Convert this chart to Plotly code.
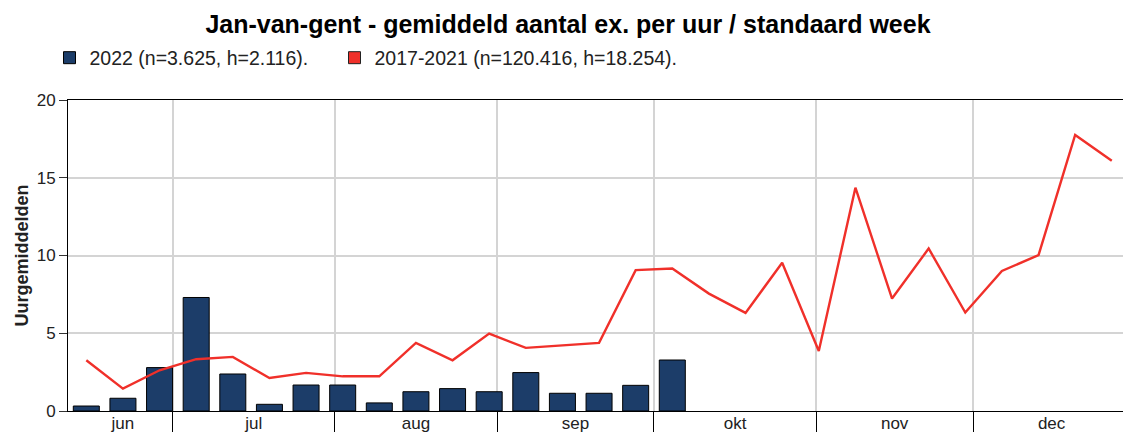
import plotly.graph_objects as go

# Data (standard weeks, day-of-year based)
weeks_2022 = list(range(24, 41))
values_2022 = [0.32, 0.82, 2.79, 7.30, 2.38, 0.43, 1.67, 1.67, 0.52,
               1.24, 1.44, 1.24, 2.47, 1.14, 1.14, 1.65, 3.28]

weeks_ref = list(range(24, 53))
values_ref = [3.26, 1.44, 2.62, 3.33, 3.48, 2.12, 2.45, 2.23, 2.23,
              4.38, 3.26, 4.98, 4.06, 4.20, 4.38, 9.06, 9.16, 7.55,
              6.31, 9.53, 3.86, 14.36, 7.23, 10.45, 6.33, 9.01, 10.02,
              17.75, 16.09]

month_labels = ["jun", "jul", "aug", "sep", "okt", "nov", "dec"]
month_label_pos = [171.5, 196.5, 227.5, 258, 288.5, 319, 349]
month_starts = [181, 212, 243, 273, 304, 334]

title_text = "Jan-van-gent - gemiddeld aantal ex. per uur / standaard week"
name_2022 = "2022 (n=3.625, h=2.116)."
name_ref = "2017-2021 (n=120.416, h=18.254)."

def week_center(w):
    return 7 * (w - 1) + 3.5

BLUE = "#1c3d69"
RED = "#f0302a"
FONT = "Liberation Sans, Arial, sans-serif"

fig = go.Figure()
fig.add_trace(go.Bar(
    x=[week_center(w) for w in weeks_2022], y=values_2022,
    name=name_2022, marker=dict(color=BLUE, line=dict(color="#000000", width=1)),
    showlegend=True, legend="legend",
))
fig.add_trace(go.Scatter(
    x=[week_center(w) for w in weeks_ref], y=values_ref,
    mode="lines", line=dict(color=RED, width=2.4), showlegend=False, name=name_ref,
))
# legend proxy (square symbol) for reference series
fig.add_trace(go.Bar(
    x=[None], y=[None], name=name_ref,
    marker=dict(color=RED, line=dict(color="#222222", width=1)), showlegend=True,
    legend="legend2",
))

px_per_day = 5.232
W, H = 1123, 432
ml, mr, mt, mb = 68, 0, 100, 21
x0 = 161
x1 = x0 + (W - ml - mr) / px_per_day

legend_common = dict(orientation="h", xref="container", yref="container",
                     y=1 - 58 / H, xanchor="left", yanchor="middle",
                     font=dict(family=FONT, size=19.5, color="#222222"),
                     bgcolor="rgba(0,0,0,0)")

fig.update_layout(
    width=W, height=H,
    margin=dict(l=ml, r=mr, t=mt, b=mb, autoexpand=False),
    paper_bgcolor="white", plot_bgcolor="white",
    font=dict(family=FONT, size=17, color="#222222"),
    bargap=0.29,
    barmode="overlay",
    title=dict(text="<b>" + title_text + "</b>", x=568 / W, xref="container",
               xanchor="center", y=1 - 24 / H, yref="container", yanchor="middle",
               font=dict(family=FONT, size=25, color="#000000")),
    legend=dict(x=49.5 / W, **legend_common),
    legend2=dict(x=334.5 / W, **legend_common),
    xaxis=dict(
        range=[x0, x1], showgrid=False, zeroline=False, automargin=False,
        tickmode="array", tickvals=month_label_pos, ticktext=month_labels,
        ticks="", tickfont=dict(size=17, color="#222222"), ticklabelstandoff=-3,
        showline=True, linecolor="#000000", linewidth=1, mirror=True,
        minor=dict(tickmode="array", tickvals=month_starts, showgrid=True,
                   gridcolor="#d4d4d4", gridwidth=1.5, ticks="outside",
                   ticklen=30, tickcolor="#000000", tickwidth=1),
        fixedrange=True,
    ),
    yaxis=dict(
        range=[0, 20], tickvals=[0, 5, 10, 15, 20], showgrid=True,
        gridcolor="#d4d4d4", gridwidth=1.5, zeroline=False, automargin=False,
        showline=True, linecolor="#000000", linewidth=1,
        ticks="outside", ticklen=8, tickcolor="#333333",
        tickfont=dict(size=17, color="#222222"),
        title=dict(text="<b>Uurgemiddelden</b>", font=dict(size=18, color="#222222"), standoff=3),
        fixedrange=True,
    ),
)

fig.write_html("out.html", config={"displayModeBar": False},
               post_script="document.body.style.margin='0';document.body.style.padding='0';")
